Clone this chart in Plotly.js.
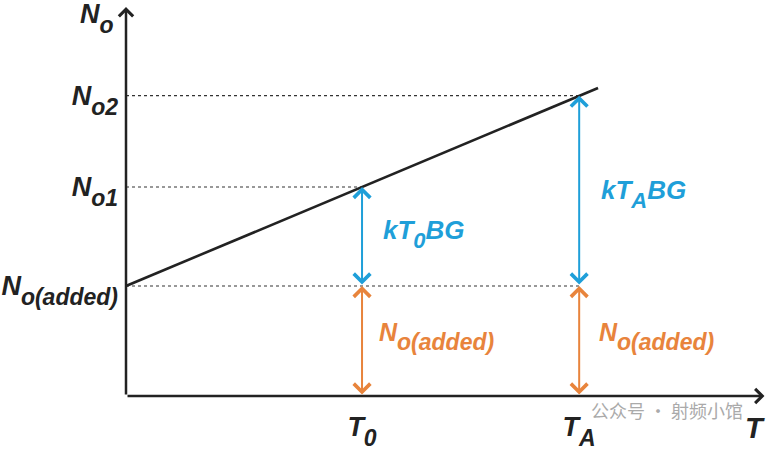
<!DOCTYPE html>
<html><head><meta charset="utf-8">
<script src="https://cdn.plot.ly/plotly-3.0.1.min.js"></script>
<style>html,body{margin:0;padding:0;background:#fff}</style>
</head><body>
<div id="chart" style="width:768px;height:450px"></div>
<script>
// ---- data ----
const T0 = 1.0;
const TA = 1.92;
const lineT = [0, 2.0];
const lineN = [1.0, 2.8];
const Nadded = 1.0;
const No1 = 1.9;
const No2 = 2.73;
const yTickMain = ['N', 'N', 'N'];
const yTickSub = ['o(added)', 'o1', 'o2'];
const yTickVals = [Nadded, No1, No2];
const xTickMain = ['T', 'T'];
const xTickSub = ['0', 'A'];
const xTickVals = [T0, TA];
const guideLevels = [Nadded, No1, No2];
const guideEnds = [TA, T0, TA];

// ---- styles ----
const BLUE = '#1f9fd9';
const ORANGE = '#e8843c';
const INK = '#222222';
const FONT = 'Liberation Sans, Arial, sans-serif';

function sub(main, s, px, tail) {
  return main + '<sub><sub><span style="font-size:' + px + 'px">' + s + '</span></sub></sub>' + (tail || '');
}
const yTickText = yTickMain.map((m, i) => sub(m, yTickSub[i], 23));
const xTickText = xTickMain.map((m, i) => sub(m, xTickSub[i], 23));

const traces = [];
guideLevels.forEach((lv, i) => {
  traces.push({
    x: [0, guideEnds[i]], y: [lv, lv], mode: 'lines', type: 'scatter',
    line: {color: '#333', width: 1.2, dash: '3px,3px'}, hoverinfo: 'skip', showlegend: false
  });
});
traces.push({
  x: lineT, y: lineN, mode: 'lines', type: 'scatter',
  line: {color: INK, width: 2.6}, hoverinfo: 'skip', showlegend: false
});

function dblArrow(x, y0, y1, color) {
  return {
    x: x, y: y1, ax: x, ay: y0, xref: 'x', yref: 'y', axref: 'x', ayref: 'y',
    text: '', showarrow: true, arrowside: 'end+start',
    arrowhead: 4, startarrowhead: 4, arrowsize: 1.6, startarrowsize: 1.6,
    arrowwidth: 2, arrowcolor: color, standoff: 0, startstandoff: 0
  };
}
function axisArrow(x, y) {
  return {
    x: x, y: y, ax: 0, ay: 0, xref: 'x', yref: 'y', axref: 'x', ayref: 'y',
    text: '', showarrow: true, arrowhead: 4, arrowsize: 1.1, arrowwidth: 2.5,
    arrowcolor: INK, standoff: 0
  };
}
function label(text, x, y, color, size, opts) {
  return Object.assign({
    x: x, y: y, xref: 'x', yref: 'y', text: text, showarrow: false,
    xanchor: 'left', yanchor: 'middle',
    font: {family: FONT, size: size, color: color, weight: 'bold', style: 'italic'}
  }, opts || {});
}

const annotations = [
  axisArrow(2.705, 0),
  axisArrow(0, 3.536),
  dblArrow(T0, Nadded, No1, BLUE),
  dblArrow(TA, Nadded, No2, BLUE),
  dblArrow(T0, 0, Nadded, ORANGE),
  dblArrow(TA, 0, Nadded, ORANGE),
  label(sub('kT', '0', 22, 'BG'), T0 + 0.08, 1.47, BLUE, 26),
  label(sub('kT', 'A', 22, 'BG'), TA + 0.085, 1.835, BLUE, 26),
  label(sub('N', 'o(added)', 23), T0 + 0.062, 0.54, ORANGE, 25),
  label(sub('N', 'o(added)', 23), TA + 0.074, 0.54, ORANGE, 25),
  label(sub('N', 'o', 23), 0, 3.43, INK, 27, {xanchor: 'right', xshift: -10}),
  label('T', 2.665, -0.081, INK, 29, {xanchor: 'center', yref: 'paper'}),
  {
    x: 2.29, y: -0.035, xref: 'x', yref: 'paper', showarrow: false,
    text: '公众号 · 射频小馆', xanchor: 'center', yanchor: 'middle',
    font: {family: 'Noto Sans CJK SC, sans-serif', size: 18, color: '#aaaaaa'}
  }
];

const layout = {
  width: 768, height: 450,
  margin: {l: 126, r: 0, t: 0, b: 54},
  paper_bgcolor: '#fff', plot_bgcolor: '#fff',
  showlegend: false,
  xaxis: {
    range: [0, 2.72], showgrid: false, zeroline: false, showline: false,
    tickvals: xTickVals, ticktext: xTickText, ticks: '', ticklabelstandoff: 12,
    tickfont: {family: FONT, size: 27, color: INK, weight: 'bold', style: 'italic'},
    fixedrange: true
  },
  yaxis: {
    range: [0, 3.6], showgrid: false, zeroline: false, showline: false,
    tickvals: yTickVals, ticktext: yTickText, ticks: '', ticklabelstandoff: 7,
    tickfont: {family: FONT, size: 27, color: INK, weight: 'bold', style: 'italic'},
    fixedrange: true
  },
  annotations: annotations
};

Plotly.newPlot('chart', traces, layout, {displayModeBar: false, staticPlot: true});
</script>
</body></html>
